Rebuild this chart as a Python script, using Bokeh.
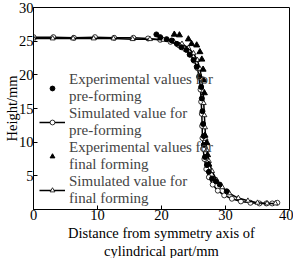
from bokeh.plotting import figure
from bokeh.models import Range1d, Legend, LegendItem, FixedTicker, Title
from bokeh.embed import file_html
from bokeh.resources import INLINE

# Simulated value for pre-forming (line + open circles)
sim_pre_x = [0, 3.1, 6.3, 9.6, 12.6, 15.6, 17.9, 19.8, 21.4, 22.7, 23.7, 24.5, 25.1, 25.6, 25.9,
             26.1, 26.2, 26.3, 26.35, 26.4, 26.5, 26.7, 27.0, 27.4, 28.0, 28.8, 29.8, 31.0,
             32.4, 33.9, 35.3, 36.4, 37.3, 38.1]
sim_pre_y = [25.6, 25.6, 25.5, 25.6, 25.5, 25.5, 25.4, 25.2, 24.9, 24.4, 23.8, 23.0, 22.1, 21.0, 19.6,
             17.8, 16.0, 14.2, 12.4, 10.6, 9.0, 7.5, 6.0, 4.8, 3.7, 2.8, 2.1, 1.6,
             1.2, 1.0, 0.9, 0.9, 0.9, 1.0]

# Simulated value for final forming (line + open triangles)
sim_fin_x = [0, 3.0, 6.2, 9.4, 12.5, 15.5, 18.2, 20.3, 21.9, 23.2, 24.2, 25.0, 25.6, 26.0, 26.3,
             26.5, 26.6, 26.7, 26.8, 26.9, 27.1, 27.4, 27.9, 28.6, 29.5, 30.6, 32.0, 33.5,
             35.0, 36.5, 37.8]
sim_fin_y = [25.4, 25.4, 25.4, 25.4, 25.4, 25.3, 25.3, 25.2, 25.0, 24.6, 24.0, 23.2, 22.2, 20.9, 19.4,
             17.6, 15.8, 14.0, 12.2, 10.5, 8.8, 7.2, 5.7, 4.4, 3.3, 2.4, 1.7, 1.3,
             1.0, 0.9, 0.9]

# Experimental values for pre-forming (filled circles)
exp_pre_x = [19.2, 19.8, 20.8, 21.6, 22.4, 23.1, 23.9, 24.4, 25.0, 25.5, 25.9, 26.2, 26.3, 26.4,
             26.5, 26.6, 26.6, 26.8, 27.1, 27.4, 27.9, 28.5, 29.1, 30.2]
exp_pre_y = [26.0, 25.6, 25.3, 25.1, 24.6, 24.1, 23.7, 23.0, 22.2, 21.2, 19.8, 18.2, 16.5, 14.6,
             12.7, 10.9, 9.6, 7.8, 6.6, 5.6, 4.6, 4.2, 3.7, 2.7]

# Experimental values for final forming (filled triangles)
exp_fin_x = [22.0, 22.8, 24.2, 24.7, 25.5, 26.0, 26.3, 26.5, 26.6, 26.7, 26.8, 27.1, 27.2, 27.4]
exp_fin_y = [26.0, 25.9, 25.3, 24.6, 24.4, 23.4, 22.3, 20.8, 19.2, 17.3, 11.0, 9.9, 8.1, 6.7]

x_ticks = [0, 10, 20, 30, 40]
y_ticks = [0, 5, 10, 15, 20, 25, 30]
x_title_lines = ["Distance from symmetry axis of", "cylindrical part/mm"]
y_title = "Height/mm"

FONT = "Liberation Serif"

p = figure(width=293, height=258, output_backend="svg", toolbar_location=None,
           x_range=Range1d(0, 40), y_range=Range1d(0, 30),
           min_border_left=33, min_border_right=4, min_border_top=7, min_border_bottom=44)
p.grid.visible = False
p.outline_line_color = "black"
p.outline_line_width = 1
p.background_fill_color = "white"
p.border_fill_color = "white"

for ax in (p.xaxis[0], p.yaxis[0]):
    ax.major_tick_in = 4
    ax.major_tick_out = 0
    ax.minor_tick_line_color = None
    ax.axis_line_color = "black"
    ax.major_label_text_font = FONT
    ax.major_label_text_font_size = "14.5px"
    ax.major_label_text_color = "black"
    ax.axis_label_text_font = FONT
    ax.axis_label_text_font_size = "14.5px"
    ax.axis_label_text_font_style = "normal"
    ax.axis_label_text_color = "black"
    ax.major_label_standoff = 0

p.yaxis.axis_label_standoff = -4
p.xaxis.ticker = FixedTicker(ticks=x_ticks)
p.yaxis.ticker = FixedTicker(ticks=y_ticks)
p.yaxis.major_label_overrides = {0: ""}
p.yaxis.axis_label = y_title

# two-line x-axis title as stacked titles below the axis
for line in x_title_lines:
    t = Title(text=line, align="center", text_font=FONT, text_font_size="14.5px",
              text_font_style="normal", text_color="black", standoff=0,
              text_line_height=0.85)
    p.add_layout(t, "below")

l_pre = p.line(sim_pre_x, sim_pre_y, line_color="black", line_width=1.5)
m_pre = p.scatter(sim_pre_x, sim_pre_y, marker="circle", size=5, fill_color="white",
                  line_color="black", line_width=0.8)
l_fin = p.line(sim_fin_x, sim_fin_y, line_color="black", line_width=1.5)
m_fin = p.scatter(sim_fin_x, sim_fin_y, marker="triangle", size=5, fill_color="white",
                  line_color="black", line_width=0.8)
e_pre = p.scatter(exp_pre_x, exp_pre_y, marker="circle", size=5, fill_color="black",
                  line_color="black")
e_fin = p.scatter(exp_fin_x, exp_fin_y, marker="triangle", size=6, fill_color="black",
                  line_color="black")

legend = Legend(items=[
    LegendItem(label="Experimental values for\npre-forming", renderers=[e_pre]),
    LegendItem(label="Simulated value for\npre-forming", renderers=[l_pre, m_pre]),
    LegendItem(label="Experimental values for\nfinal forming", renderers=[e_fin]),
    LegendItem(label="Simulated value for\nfinal forming", renderers=[l_fin, m_fin]),
], location=(6, 2))
legend.label_text_font = FONT
legend.label_text_font_size = "15px"
legend.label_text_line_height = 0.88
legend.glyph_width = 26
legend.glyph_height = 12
legend.label_standoff = 4
legend.spacing = 0
legend.padding = 0
legend.margin = 0
legend.border_line_color = None
legend.background_fill_alpha = 0
p.add_layout(legend)

open("out.html", "w").write(file_html(p, INLINE))
